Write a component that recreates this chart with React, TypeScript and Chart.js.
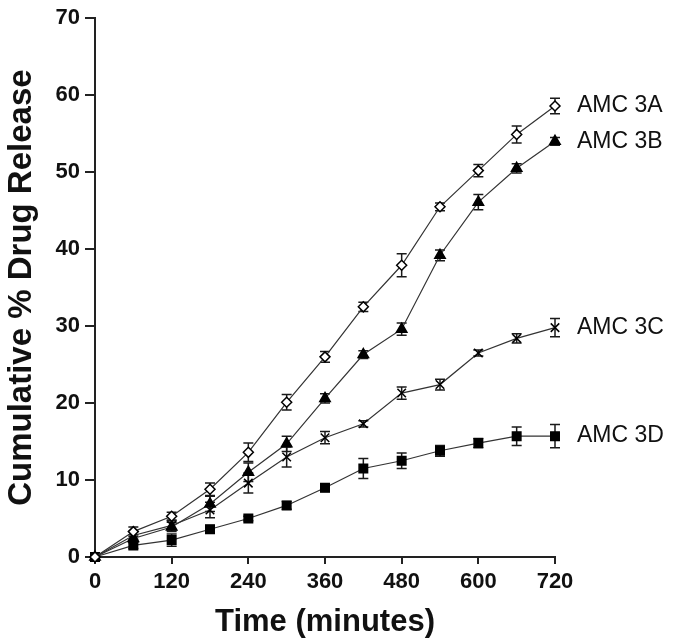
import React, { useEffect, useRef } from "react";
import { Chart, registerables } from "chart.js";

Chart.register(...registerables);

const times = [0, 60, 120, 180, 240, 300, 360, 420, 480, 540, 600, 660, 720];
const seriesNames = ["AMC 3A", "AMC 3B", "AMC 3C", "AMC 3D"];
const amc3A = [0, 3.3, 5.3, 8.8, 13.6, 20.1, 26.0, 32.5, 37.9, 45.5, 50.2, 54.9, 58.6];
const amc3B = [0, 2.4, 3.9, 6.9, 11.0, 14.7, 20.6, 26.3, 29.6, 39.2, 46.1, 50.5, 54.0];
const amc3C = [0, 2.8, 4.1, 6.1, 9.6, 13.0, 15.5, 17.3, 21.3, 22.4, 26.5, 28.4, 29.8];
const amc3D = [0, 1.5, 2.2, 3.6, 5.0, 6.7, 9.0, 11.5, 12.5, 13.8, 14.8, 15.7, 15.7];
const amc3AErr = [0, 0.6, 0.5, 0.8, 1.2, 1.0, 0.7, 0.6, 1.5, 0.5, 0.8, 1.1, 1.0];
const amc3BErr = [0, 0.5, 0.6, 1.0, 1.2, 1.0, 0.6, 0.5, 0.8, 0.7, 1.0, 0.6, 0.5];
const amc3CErr = [0, 0.5, 0.6, 1.0, 1.3, 1.3, 0.8, 0.4, 0.8, 0.7, 0.4, 0.6, 1.2];
const amc3DErr = [0, 0.4, 0.8, 0.5, 0.3, 0.5, 0.5, 1.3, 1.0, 0.7, 0.6, 1.2, 1.5];
const xTicks = [0, 120, 240, 360, 480, 600, 720];
const yTicks = [0, 10, 20, 30, 40, 50, 60, 70];

const values = [amc3A, amc3B, amc3C, amc3D];
const errors = [amc3AErr, amc3BErr, amc3CErr, amc3DErr];
const FONT = "'Liberation Sans', Arial, Helvetica, sans-serif";

const errorBarPlugin = {
  id: "errorBars",
  beforeDatasetsDraw(chart: any) {
    const ctx = chart.ctx;
    const y = chart.scales.y;
    ctx.save();
    ctx.strokeStyle = "#1a1a1a";
    ctx.lineWidth = 1.5;
    chart.data.datasets.forEach((ds: any, di: number) => {
      const meta = chart.getDatasetMeta(di);
      const err = errors[di];
      meta.data.forEach((pt: any, i: number) => {
        const e = err[i];
        if (!e) return;
        const v = values[di][i];
        const top = y.getPixelForValue(v + e);
        const bot = y.getPixelForValue(v - e);
        const x = pt.x;
        ctx.beginPath();
        ctx.moveTo(x, top);
        ctx.lineTo(x, bot);
        ctx.moveTo(x - 5, top);
        ctx.lineTo(x + 5, top);
        ctx.moveTo(x - 5, bot);
        ctx.lineTo(x + 5, bot);
        ctx.stroke();
      });
    });
    ctx.restore();
  },
};

const labelPlugin = {
  id: "endLabels",
  afterDatasetsDraw(chart: any) {
    const ctx = chart.ctx;
    ctx.save();
    ctx.fillStyle = "#111";
    ctx.font = `23px ${FONT}`;
    ctx.textBaseline = "middle";
    ctx.textAlign = "left";
    chart.data.datasets.forEach((ds: any, di: number) => {
      const meta = chart.getDatasetMeta(di);
      const last = meta.data[meta.data.length - 1];
      ctx.fillText(seriesNames[di], last.x + 22, last.y);
    });
    ctx.restore();
  },
};

export default function App() {
  const ref = useRef<HTMLCanvasElement>(null);
  useEffect(() => {
    if (!ref.current) return;
    const styles = [
      { pointStyle: "rectRot", bg: "#fff", radius: 5 },
      { pointStyle: "triangle", bg: "#000", radius: 6 },
      { pointStyle: "crossRot", bg: "#000", radius: 6 },
      { pointStyle: "rect", bg: "#000", radius: 6 },
    ];
    const chart = new Chart(ref.current, {
      type: "line",
      data: {
        datasets: values.map((vals, di) => ({
          label: seriesNames[di],
          data: times.map((t, i) => ({ x: t, y: vals[i] })),
          borderColor: "#333",
          borderWidth: 1.2,
          pointStyle: styles[di].pointStyle as any,
          pointRadius: styles[di].radius,
          pointBackgroundColor: styles[di].bg,
          pointBorderColor: "#000",
          pointBorderWidth: 1.5,
          tension: 0,
          fill: false,
          clip: false as any,
        })),
      },
      options: {
        animation: false,
        responsive: false,
        events: [],
        layout: { padding: { top: 15, right: 118, left: 0, bottom: 0 } },
        plugins: { legend: { display: false }, tooltip: { enabled: false } },
        scales: {
          x: {
            type: "linear",
            min: 0,
            max: 720,
            afterFit: (axis: any) => {
              axis.height = 86;
            },
            afterBuildTicks: (axis: any) => {
              axis.ticks = xTicks.map((v) => ({ value: v }));
            },
            grid: { drawOnChartArea: false, drawTicks: true, tickLength: 7, color: "#222", lineWidth: 2 },
            border: { display: true, color: "#222", width: 2 },
            ticks: { color: "#111", font: { family: FONT, size: 22, weight: "bold" }, padding: 5, maxRotation: 0 },
            title: {
              display: true,
              text: "Time (minutes)",
              color: "#111",
              font: { family: FONT, size: 31, weight: "bold" },
              padding: { top: 0, bottom: 2 },
            },
          },
          y: {
            type: "linear",
            min: 0,
            max: 70,
            afterFit: (axis: any) => {
              axis.width = 95;
            },
            afterBuildTicks: (axis: any) => {
              axis.ticks = yTicks.map((v) => ({ value: v }));
            },
            grid: { drawOnChartArea: false, drawTicks: true, tickLength: 10, color: "#222", lineWidth: 2 },
            border: { display: true, color: "#222", width: 2 },
            ticks: { color: "#111", font: { family: FONT, size: 22, weight: "bold" }, padding: 5 },
            title: {
              display: true,
              text: "Cumulative % Drug Release",
              color: "#111",
              font: { family: FONT, size: 33, weight: "bold" },
              padding: { top: 2, bottom: 0 },
            },
          },
        },
      },
      plugins: [errorBarPlugin, labelPlugin],
    });
    return () => chart.destroy();
  }, []);
  return (
    <div style={{ position: "fixed", left: 0, top: 0, width: 673, height: 643, background: "#fff" }}>
      <canvas ref={ref} width={673} height={643} style={{ width: 673, height: 643 }} />
    </div>
  );
}
